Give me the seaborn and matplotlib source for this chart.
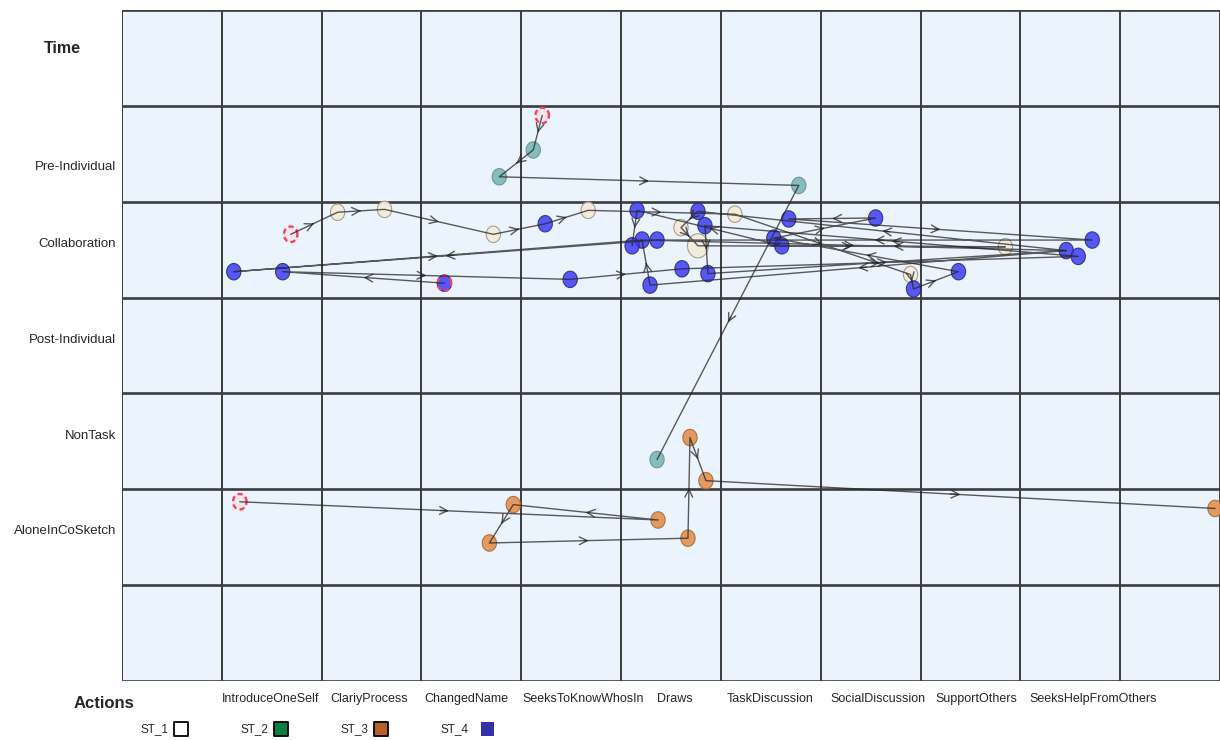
import numpy as np
import pandas as pd
import seaborn as sns
import matplotlib
matplotlib.use('Agg')  # no display
import matplotlib.pyplot as plt

# row / column labels
stages = ['Pre-Individual', 'Collaboration', 'Post-Individual', 'NonTask', 'AloneInCoSketch']
actions = ['IntroduceOneSelf', 'ClariyProcess', 'ChangedName', 'SeeksToKnowWhosIn', 'Draws',
           'TaskDiscussion', 'SocialDiscussion', 'SupportOthers', 'SeeksHelpFromOthers']
legend_labels = ['ST_1', 'ST_2', 'ST_3', 'ST_4']

# events: x = action column, y = stage row (row 0 is the "Time" header row)
ev_id = ['t0', 't1', 't2', 't3', 't4',
         'o0', 'o1', 'o2', 'o3', 'o4', 'o5', 'o6', 'o7',
         'w0', 'w1', 'w2', 'w3', 'w4', 'w5', 'w6', 'w7', 'w9', 'w10',
         'b1', 'b2', 'b3', 'b4', 'b5', 'b6', 'b7', 'b8', 'b9', 'b10', 'b11', 'b12',
         'b13', 'b14', 'b15', 'b16', 'b17', 'b18', 'b19', 'b20', 'b21', 'b22', 'b23']
ev_x = [4.21, 4.12, 3.78, 6.78, 5.36,
        1.18, 5.37, 3.92, 3.68, 5.67, 5.69, 5.85, 10.95,
        1.69, 2.16, 2.63, 3.72, 4.67, 5.60, 6.14, 5.77, 7.90, 8.85,
        1.12, 1.61, 3.23, 4.49, 4.24, 5.16, 5.21, 5.11, 5.36, 5.29, 5.61, 5.77,
        5.84, 5.87, 6.53, 6.61, 6.68, 7.55, 7.93, 8.38, 9.46, 9.58, 9.72]
ev_y = [1.10, 1.46, 1.74, 1.83, 4.69,
        5.13, 5.32, 5.16, 5.56, 5.51, 4.46, 4.91, 5.20,
        2.34, 2.11, 2.08, 2.34, 2.09, 2.27, 2.13, 2.46, 2.76, 2.47,
        2.73, 2.73, 2.85, 2.81, 2.23, 2.09, 2.40, 2.46, 2.40, 2.87, 2.70, 2.10,
        2.25, 2.75, 2.38, 2.46, 2.18, 2.17, 2.91, 2.73, 2.51, 2.57, 2.40]
ev_kind = ['start', 'teal', 'teal', 'teal', 'teal',
           'start', 'orange', 'orange', 'orange', 'orange', 'orange', 'orange', 'orange',
           'start', 'beige', 'beige', 'beige', 'beige', 'beige', 'beige', 'beige', 'beige', 'beige'] + ['blue'] * 23
ev_count = [1] * len(ev_id)
ev_count[ev_id.index('w7')] = 2

# trajectories (ordered event ids)
seq_a = ['t0', 't1', 't2', 't3', 't4']
seq_b = ['o0', 'o1', 'o2', 'o3', 'o4', 'o5', 'o6', 'o7']
seq_c = ['w0', 'w1', 'w2', 'w3', 'b5', 'w4', 'w6', 'w9', 'b19', 'b20', 'b15', 'b18', 'b17',
         'b23', 'b9', 'b1', 'b7', 'b21', 'b12', 'w5', 'w7', 'w10', 'b16', 'b6', 'b8']
seq_d = ['b3', 'b2', 'b4', 'b11', 'b22', 'b13', 'b14', 'b21', 'b10', 'b7']

events = pd.DataFrame({'id': ev_id, 'x': ev_x, 'y': ev_y, 'kind': ev_kind, 'count': ev_count})
pos = events.set_index('id')

rows = []
for name, seq in [('a', seq_a), ('b', seq_b), ('c', seq_c), ('d', seq_d)]:
    for k, e in enumerate(seq):
        rows.append({'seq': name, 'step': k, 'x': pos.loc[e, 'x'], 'y': pos.loc[e, 'y']})
paths = pd.DataFrame(rows)

sns.set_theme(style='white')
plt.rcParams['font.family'] = ['Liberation Sans', 'DejaVu Sans']

fig = plt.figure(figsize=(12.2, 7.4), dpi=100)
ax = fig.add_axes([0.1, 0.0797, 0.9, 0.9068])
ax.set_facecolor('#ebf3fd')
ax.set_xlim(0, 11)
ax.set_ylim(7, 0)

# cell grid
for gx in range(0, 12):
    ax.axvline(gx, color='#3c3c3c', lw=1.4, zorder=1)
for gy in range(0, 8):
    ax.axhline(gy, color='#3c3c3c', lw=1.9, zorder=1)
for s in ax.spines.values():
    s.set_visible(False)
ax.set_xticks([])
ax.set_yticks([])

# slightly tall oval marker
t = np.linspace(0, 2 * np.pi, 40)
oval = np.column_stack([0.87 * np.cos(t), np.sin(t)])

styles = {
    'teal': dict(color='#7ab6b6', edgecolor='#6f8f8f', alpha=0.9),
    'orange': dict(color='#e39456', edgecolor='#a8703f', alpha=0.95),
    'beige': dict(color='#f4ebda', edgecolor='#a39b8c', alpha=0.95),
    'blue': dict(color='#3c3cf7', edgecolor='#2a2a6a', alpha=0.85),
    'start': dict(color='#f9dde0', edgecolor='none', alpha=0.6),
}
for kind, st in styles.items():
    sub = events[events['kind'] == kind]
    sns.scatterplot(data=sub, x='x', y='y', size='count', sizes=(140, 300), size_norm=(1, 2),
                    marker=oval, color=st['color'], edgecolor=st['edgecolor'], alpha=st['alpha'],
                    linewidth=0.8, legend=False, ax=ax, zorder=2)

# start rings (first event of every trajectory)
starts = pos.loc[[seq_a[0], seq_b[0], seq_c[0], seq_d[0]]]
ax.scatter(starts['x'], starts['y'], s=125, marker=oval, facecolors='none', edgecolors='#f2415f',
           linewidths=1.7, linestyles=(0, (2.2, 1.4)), zorder=3)

# trajectories
sns.lineplot(data=paths, x='x', y='y', units='seq', estimator=None, sort=False,
             color='#262626', lw=1.0, alpha=0.75, ax=ax, zorder=4)
for name, g in paths.groupby('seq'):
    g = g.sort_values('step')
    xs, ys = g['x'].to_numpy(), g['y'].to_numpy()
    for i in range(len(xs) - 1):
        mx, my = (xs[i] + xs[i + 1]) / 2, (ys[i] + ys[i + 1]) / 2
        bx, by = xs[i] + 0.48 * (xs[i + 1] - xs[i]), ys[i] + 0.48 * (ys[i + 1] - ys[i])
        ax.annotate('', xy=(mx, my), xytext=(bx, by),
                    arrowprops=dict(arrowstyle='->', color='#262626', lw=1.0, alpha=0.75,
                                    mutation_scale=14, shrinkA=0, shrinkB=0), zorder=4)
ax.set_xlabel('')
ax.set_ylabel('')

# row labels
ax.text(-0.6, 0.4, 'Time', ha='center', va='center', fontsize=11.5, fontweight='bold')
for i, lab in enumerate(stages):
    ax.text(-0.06, i + 1.64 if i == 0 else i + 1.44, lab, ha='right', va='center', fontsize=9.5)

# column labels
col_left = [1.0, 2.09, 3.03, 4.01, 5.36, 6.06, 7.1, 8.15, 9.09]
for xl, lab in zip(col_left, actions):
    ax.text(xl, 7.19, lab, ha='left', va='center', fontsize=9, clip_on=False)
ax.text(-0.18, 7.23, 'Actions', ha='center', va='center', fontsize=12, fontweight='bold')

# legend row
leg_fill = ['white', '#0b7d3f', '#b8602c', '#3333a8']
leg_edge = ['black', 'black', 'black', 'none']
for i, (lab, fc, ec) in enumerate(zip(legend_labels, leg_fill, leg_edge)):
    ax.text(0.19 + i * 1.0, 7.5, lab, ha='left', va='center', fontsize=8.5, clip_on=False)
    ax.scatter([0.59 + i * 1.0 + (0.07 if i == 3 else 0)], [7.5], marker='s', s=95,
               facecolors=fc, edgecolors=ec, linewidths=1.3, clip_on=False, zorder=5)

fig.savefig('out.png', dpi=100)
